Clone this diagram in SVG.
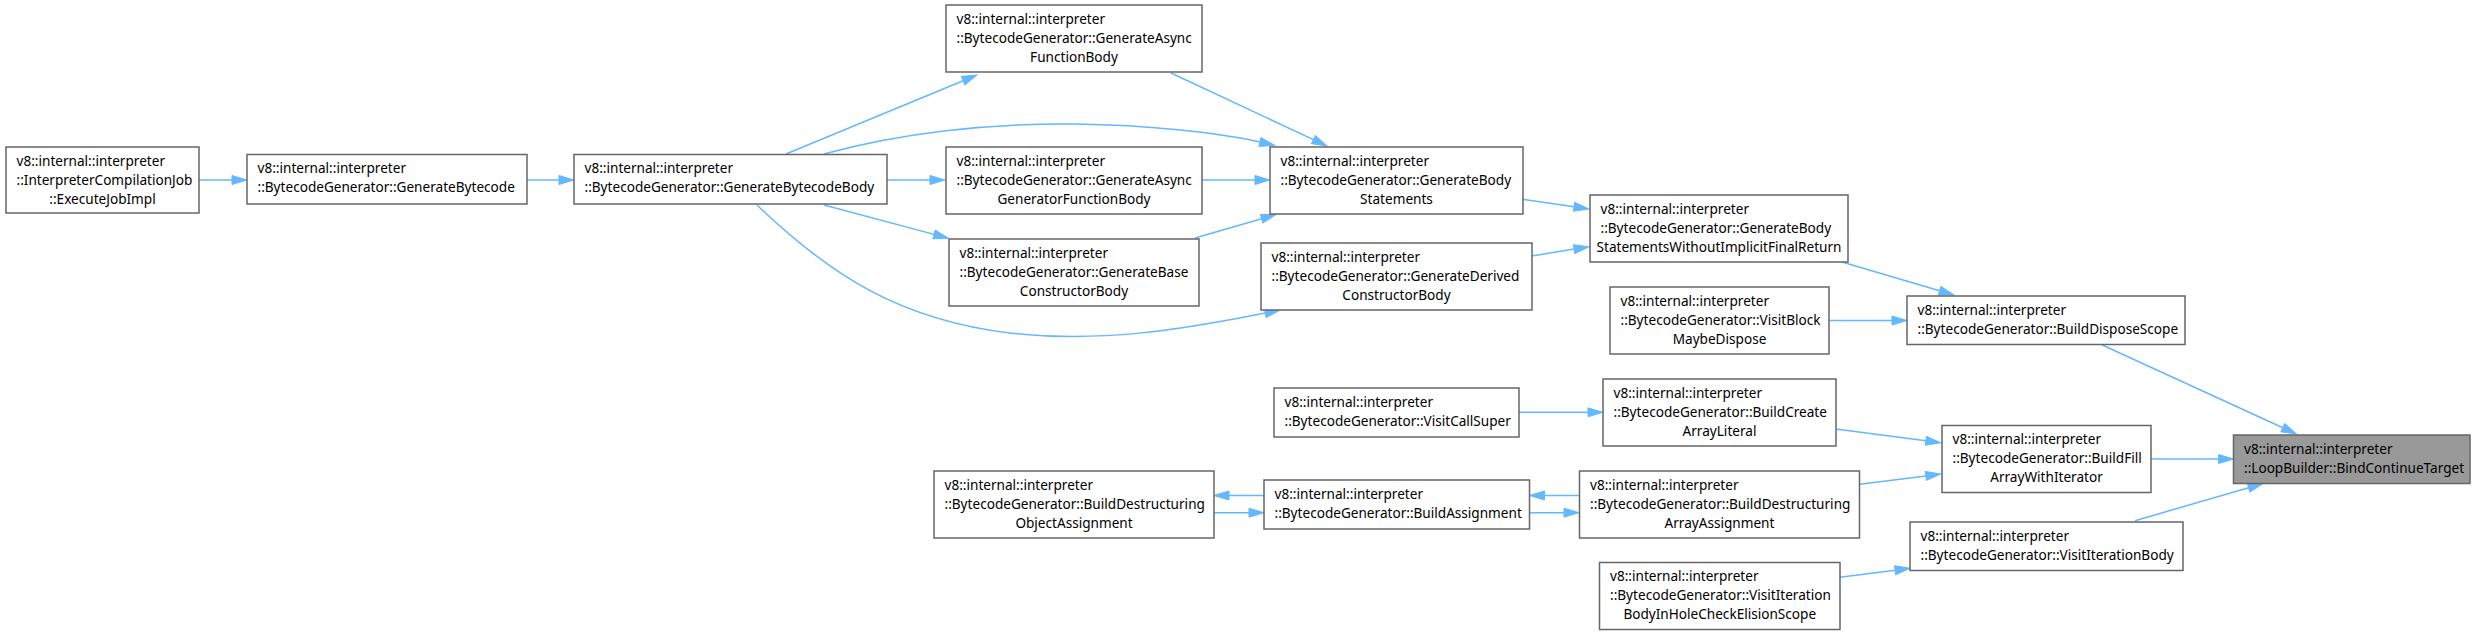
<svg xmlns="http://www.w3.org/2000/svg" width="2475" height="636" viewBox="0 0 2475 636">
<style>
.n rect{fill:#ffffff;stroke:#666666;stroke-width:1.5}
.n.root rect{fill:#999999}
.n text{font-family:"Noto Sans","Liberation Sans",sans-serif;font-size:13.6px;fill:#000000}
.c{text-anchor:middle}
.e path{fill:none;stroke:#63b8ff;stroke-width:1.5}
</style>
<defs>
<marker id="ah" markerUnits="userSpaceOnUse" markerWidth="16" markerHeight="11" viewBox="0 -5.5 16 11" refX="0" refY="0" orient="auto" overflow="visible">
<path d="M0,-4.5 L15,0 L0,4.5 Z" fill="#63b8ff" stroke="#63b8ff" stroke-width="1"/>
</marker>
</defs>
<g id="connectors" class="e">
<path d="M199,180 L232,180" marker-end="url(#ah)"/>
<path d="M527,180 L559,180" marker-end="url(#ah)"/>
<path d="M786,154 L963.1,80.7" marker-end="url(#ah)"/>
<path d="M824,154 C900,133 990,123 1075,124 C1150,125 1220,133 1260,142" marker-end="url(#ah)"/>
<path d="M887,180 L930,180" marker-end="url(#ah)"/>
<path d="M824,205 L934.1,234.4" marker-end="url(#ah)"/>
<path d="M757,205 C830,275 900,320 1010,333 C1100,343 1180,330 1265.3,313" marker-end="url(#ah)"/>
<path d="M1171,73 L1313.4,139.6" marker-end="url(#ah)"/>
<path d="M1202,180 L1255,180" marker-end="url(#ah)"/>
<path d="M1195,238 L1261.6,218.7" marker-end="url(#ah)"/>
<path d="M1522.4,199.3 L1574.1,206.8" marker-end="url(#ah)"/>
<path d="M1531.6,256 L1574.2,249.1" marker-end="url(#ah)"/>
<path d="M1842,262 L1939.6,290.8" marker-end="url(#ah)"/>
<path d="M1829,320.5 L1892,320.5" marker-end="url(#ah)"/>
<path d="M2102.3,345 L2282.8,427.7" marker-end="url(#ah)"/>
<path d="M1519,412.3 L1588,412.3" marker-end="url(#ah)"/>
<path d="M1835.7,429 L1925.9,440.8" marker-end="url(#ah)"/>
<path d="M1859.7,484.3 L1925.9,475.9" marker-end="url(#ah)"/>
<path d="M2151,459 L2218.6,459" marker-end="url(#ah)"/>
<path d="M2135,520.7 L2248.6,487.7" marker-end="url(#ah)"/>
<path d="M1840,577.3 L1895.1,570.2" marker-end="url(#ah)"/>
<path d="M1264,495.5 L1229,495.5" marker-end="url(#ah)"/>
<path d="M1214,512.7 L1249,512.7" marker-end="url(#ah)"/>
<path d="M1579,495.5 L1544.5,495.5" marker-end="url(#ah)"/>
<path d="M1529.5,512.7 L1564,512.7" marker-end="url(#ah)"/>
</g>
<g id="n_exec" class="n"><rect x="6" y="147" width="193" height="66"/><text x="16.5" y="165.5">v8::internal::interpreter</text><text x="16.5" y="184.5">::InterpreterCompilationJob</text><text class="c" x="102.5" y="203.5">::ExecuteJobImpl</text></g>
<g id="n_genBytecode" class="n"><rect x="247" y="154.5" width="280" height="49.5"/><text x="257.5" y="173">v8::internal::interpreter</text><text x="257.5" y="192">::BytecodeGenerator::GenerateBytecode</text></g>
<g id="n_genBody" class="n"><rect x="574" y="154.5" width="313" height="49.5"/><text x="584.5" y="173">v8::internal::interpreter</text><text x="584.5" y="192">::BytecodeGenerator::GenerateBytecodeBody</text></g>
<g id="n_asyncFn" class="n"><rect x="946" y="5" width="256" height="67"/><text x="956.5" y="23.5">v8::internal::interpreter</text><text x="956.5" y="42.5">::BytecodeGenerator::GenerateAsync</text><text class="c" x="1074" y="61.5">FunctionBody</text></g>
<g id="n_asyncGen" class="n"><rect x="946" y="147" width="256" height="67"/><text x="956.5" y="165.5">v8::internal::interpreter</text><text x="956.5" y="184.5">::BytecodeGenerator::GenerateAsync</text><text class="c" x="1074" y="203.5">GeneratorFunctionBody</text></g>
<g id="n_base" class="n"><rect x="949" y="239" width="250" height="67"/><text x="959.5" y="257.5">v8::internal::interpreter</text><text x="959.5" y="276.5">::BytecodeGenerator::GenerateBase</text><text class="c" x="1074" y="295.5">ConstructorBody</text></g>
<g id="n_bodyStmts" class="n"><rect x="1270" y="147" width="253" height="67"/><text x="1280.5" y="165.5">v8::internal::interpreter</text><text x="1280.5" y="184.5">::BytecodeGenerator::GenerateBody</text><text class="c" x="1396.5" y="203.5">Statements</text></g>
<g id="n_derived" class="n"><rect x="1261" y="243" width="271" height="67"/><text x="1271.5" y="261.5">v8::internal::interpreter</text><text x="1271.5" y="280.5">::BytecodeGenerator::GenerateDerived</text><text class="c" x="1396.5" y="299.5">ConstructorBody</text></g>
<g id="n_withoutImpl" class="n"><rect x="1590" y="195" width="258" height="67"/><text x="1600.5" y="213.5">v8::internal::interpreter</text><text x="1600.5" y="232.5">::BytecodeGenerator::GenerateBody</text><text class="c" x="1719" y="251.5">StatementsWithoutImplicitFinalReturn</text></g>
<g id="n_visitBlock" class="n"><rect x="1610" y="287" width="219" height="67"/><text x="1620.5" y="305.5">v8::internal::interpreter</text><text x="1620.5" y="324.5">::BytecodeGenerator::VisitBlock</text><text class="c" x="1719.5" y="343.5">MaybeDispose</text></g>
<g id="n_disposeScope" class="n"><rect x="1907" y="296" width="278" height="48.5"/><text x="1917.5" y="314.5">v8::internal::interpreter</text><text x="1917.5" y="333.5">::BytecodeGenerator::BuildDisposeScope</text></g>
<g id="n_visitCallSuper" class="n"><rect x="1274" y="388" width="245" height="49"/><text x="1284.5" y="406.5">v8::internal::interpreter</text><text x="1284.5" y="425.5">::BytecodeGenerator::VisitCallSuper</text></g>
<g id="n_createArray" class="n"><rect x="1603" y="379" width="233" height="67"/><text x="1613.5" y="397.5">v8::internal::interpreter</text><text x="1613.5" y="416.5">::BytecodeGenerator::BuildCreate</text><text class="c" x="1719.5" y="435.5">ArrayLiteral</text></g>
<g id="n_fill" class="n"><rect x="1942" y="425.5" width="209" height="67"/><text x="1952.5" y="444">v8::internal::interpreter</text><text x="1952.5" y="463">::BytecodeGenerator::BuildFill</text><text class="c" x="2046.5" y="482">ArrayWithIterator</text></g>
<g id="n_bindContinue" class="n root"><rect x="2233.5" y="435" width="236.5" height="48.5"/><text x="2244" y="453.5">v8::internal::interpreter</text><text x="2244" y="472.5">::LoopBuilder::BindContinueTarget</text></g>
<g id="n_objAssign" class="n"><rect x="934" y="471" width="280" height="67"/><text x="944.5" y="489.5">v8::internal::interpreter</text><text x="944.5" y="508.5">::BytecodeGenerator::BuildDestructuring</text><text class="c" x="1074" y="527.5">ObjectAssignment</text></g>
<g id="n_buildAssign" class="n"><rect x="1264" y="480" width="265.5" height="49"/><text x="1274.5" y="498.5">v8::internal::interpreter</text><text x="1274.5" y="517.5">::BytecodeGenerator::BuildAssignment</text></g>
<g id="n_arrayAssign" class="n"><rect x="1579.5" y="471" width="280" height="67"/><text x="1590" y="489.5">v8::internal::interpreter</text><text x="1590" y="508.5">::BytecodeGenerator::BuildDestructuring</text><text class="c" x="1719.5" y="527.5">ArrayAssignment</text></g>
<g id="n_visitIterBody" class="n"><rect x="1910" y="522" width="273" height="48.5"/><text x="1920.5" y="540.5">v8::internal::interpreter</text><text x="1920.5" y="559.5">::BytecodeGenerator::VisitIterationBody</text></g>
<g id="n_inHole" class="n"><rect x="1599.5" y="562.5" width="240.5" height="67"/><text x="1610" y="581">v8::internal::interpreter</text><text x="1610" y="600">::BytecodeGenerator::VisitIteration</text><text class="c" x="1719.75" y="619">BodyInHoleCheckElisionScope</text></g>
</svg>
